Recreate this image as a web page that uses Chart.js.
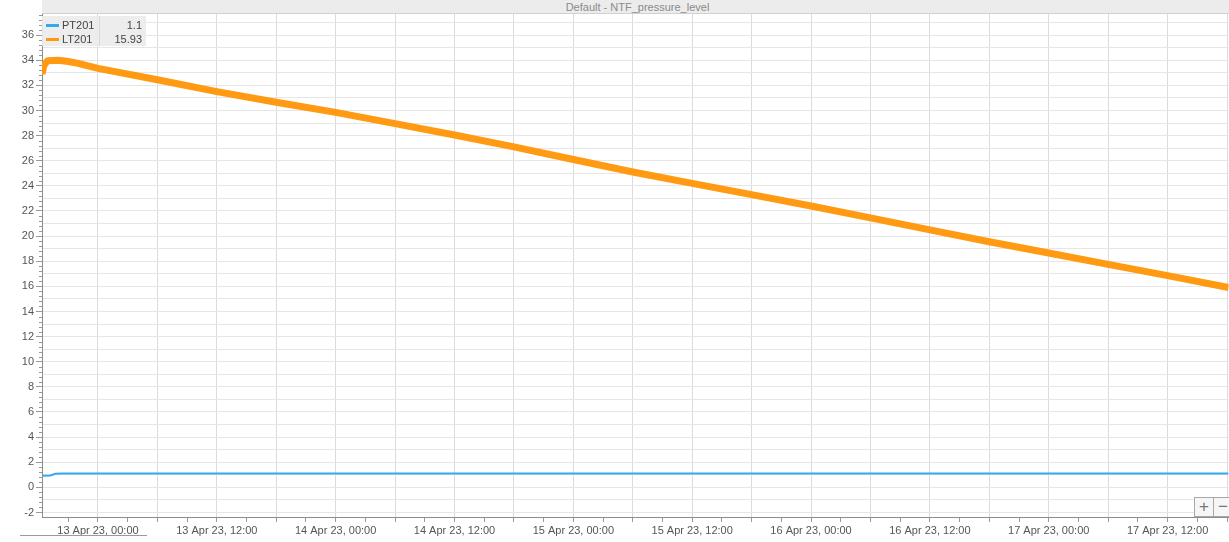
<!DOCTYPE html>
<html>
<head>
<meta charset="utf-8">
<script src="https://cdn.jsdelivr.net/npm/chart.js@4.4.0/dist/chart.umd.min.js"></script>
<style>
  html, body { margin: 0; padding: 0; background: #fff; }
  #wrap { position: relative; width: 1229px; height: 542px; overflow: hidden; font-family: "Liberation Sans", Arial, sans-serif; }
  #c { position: absolute; left: 0; top: 0; }
  #titlebar { position: absolute; left: 42px; top: 0; width: 1187px; height: 13px; background: #ececec; border-bottom: 1px solid #d0d0d0; color: #8a8a8a; font-size: 11px; line-height: 14px; text-align: center; }
  #titlebar span { position: relative; left: 2px; }
  #legend { position: absolute; left: 42px; top: 16px; width: 104px; height: 30px; background: rgba(236,236,236,0.92); font-size: 11px; color: #444; }
  #legend .div { position: absolute; left: 57px; top: 0; width: 1px; height: 30px; background: #d8d8d8; }
  .row { position: absolute; left: 0; width: 104px; height: 14px; line-height: 14px; }
  .sw { position: absolute; left: 4px; top: 6px; width: 13px; height: 3px; }
  .nm { position: absolute; left: 20px; top: 0; }
  .vl { position: absolute; right: 4px; top: 0; }
  #btns { position: absolute; left: 1194px; top: 497px; height: 19px; }
  .btn { position: absolute; top: 0; width: 18px; height: 18px; border: 1px solid #a8a8a8; background: #f6f6f6; color: #777; font-size: 17px; line-height: 17px; text-align: center; }
  #scroll { position: absolute; left: 20px; top: 535px; width: 127px; height: 1px; background: #9a9a9a; }
</style>
</head>
<body>
<div id="wrap">
  <canvas id="c" width="1229" height="542"></canvas>
  <div id="titlebar"><span>Default - NTF_pressure_level</span></div>
  <div id="legend">
    <div class="div"></div>
    <div class="row" style="top:2px"><div class="sw" style="background:#35a9f0"></div><span class="nm">PT201</span><span class="vl">1.1</span></div>
    <div class="row" style="top:16px"><div class="sw" style="background:#ff980f"></div><span class="nm">LT201</span><span class="vl">15.93</span></div>
  </div>
  <div id="btns">
    <div class="btn" style="left:0">+</div>
    <div class="btn" style="left:19px">−</div>
  </div>
  <div id="scroll"></div>
</div>
<script>
// hours relative to 13 Apr 23, 00:00
const lt201Times  = [-5.65, -5.45, -5.1, -4.0, -3.0, -2.0, 0, 6, 12, 18, 24, 30, 36, 42, 48, 54, 60, 66, 72, 78, 84, 90, 96, 102, 108, 114.16];
const lt201Values = [32.9, 33.6, 33.95, 34.0, 33.9, 33.75, 33.35, 32.45, 31.5, 30.65, 29.85, 28.95, 28.05, 27.1, 26.1, 25.1, 24.2, 23.3, 22.4, 21.45, 20.5, 19.55, 18.65, 17.75, 16.85, 15.9];
const pt201Times  = [-5.65, -4.8, -4.3, -3.5, 114.16];
const pt201Values = [0.92, 0.95, 1.08, 1.1, 1.1];
const dayLabels = {0: '13 Apr 23', 1: '14 Apr 23', 2: '15 Apr 23', 3: '16 Apr 23', 4: '17 Apr 23'};
const yTickValues = [-2, -1, 0, 1, 2, 3, 4, 5, 6, 7, 8, 9, 10, 11, 12, 13, 14, 15, 16, 17, 18, 19, 20, 21, 22, 23, 24, 25, 26, 27, 28, 29, 30, 31, 32, 33, 34, 35, 36, 37];

const xMin = -5.65, xMax = 114.16, yMin = -2.36, yMax = 37.68;

function toXY(ts, vs) { return ts.map((t, i) => ({x: t, y: vs[i]})); }

const minorTicks = {
  id: 'minorTicks',
  afterDraw(chart) {
    const ctx = chart.ctx, y = chart.scales.y, area = chart.chartArea;
    ctx.save();
    ctx.strokeStyle = '#9a9a9a';
    ctx.lineWidth = 1;
    for (let k = Math.ceil(yMin / 0.4); k * 0.4 <= yMax; k++) {
      const v = k * 0.4;
      if (Math.abs(v / 2 - Math.round(v / 2)) < 1e-6) continue;
      const py = Math.round(y.getPixelForValue(v)) + 0.5;
      ctx.beginPath();
      ctx.moveTo(area.left - 3, py);
      ctx.lineTo(area.left, py);
      ctx.stroke();
    }
    ctx.restore();
  }
};

new Chart(document.getElementById('c'), {
  type: 'line',
  data: {
    datasets: [
      { label: 'PT201', data: toXY(pt201Times, pt201Values), borderColor: '#35a9f0', borderWidth: 2, pointRadius: 0, tension: 0 },
      { label: 'LT201', data: toXY(lt201Times, lt201Values), borderColor: '#ff9a12', borderWidth: 7, pointRadius: 0, tension: 0, borderJoinStyle: 'round' }
    ]
  },
  options: {
    responsive: false,
    animation: false,
    devicePixelRatio: 1,
    layout: { padding: { top: 14, left: 0, right: 0, bottom: 0 } },
    plugins: { legend: { display: false }, tooltip: { enabled: false }, title: { display: false } },
    scales: {
      x: {
        type: 'linear', min: xMin, max: xMax,
        afterFit(s) { s.height = 25; },
        afterBuildTicks(s) {
          const t = [];
          for (let v = -3; v <= 114; v += 3) t.push({value: v});
          s.ticks = t;
        },
        grid: {
          color: c => (c.tick && c.tick.value % 6 === 0) ? '#dcdcdc' : 'rgba(0,0,0,0)',
          tickColor: '#9a9a9a',
          tickLength: 5,
          drawOnChartArea: true
        },
        border: { color: '#8c8c8c' },
        ticks: {
          autoSkip: false, maxRotation: 0, padding: 2,
          color: '#555', font: { family: '"Liberation Sans", Arial, sans-serif', size: 11 },
          callback: v => {
            if (v % 12 !== 0) return '';
            const d = Math.floor(v / 24);
            const h = v - d * 24;
            return dayLabels[d] + ', ' + (h === 0 ? '00:00' : '12:00');
          }
        }
      },
      y: {
        type: 'linear', min: yMin, max: yMax,
        afterFit(s) { s.width = 42; },
        afterBuildTicks(s) { s.ticks = yTickValues.map(v => ({value: v})); },
        grid: {
          color: '#e6e6e6',
          tickColor: c => (c.tick && c.tick.value % 2 === 0) ? '#9a9a9a' : 'rgba(0,0,0,0)',
          tickLength: 6
        },
        border: { color: '#8c8c8c' },
        ticks: {
          autoSkip: false, padding: 2,
          color: '#555', font: { family: '"Liberation Sans", Arial, sans-serif', size: 11 },
          callback: v => (v % 2 === 0 ? String(v) : '')
        }
      }
    }
  },
  plugins: [minorTicks]
});
</script>
</body>
</html>
